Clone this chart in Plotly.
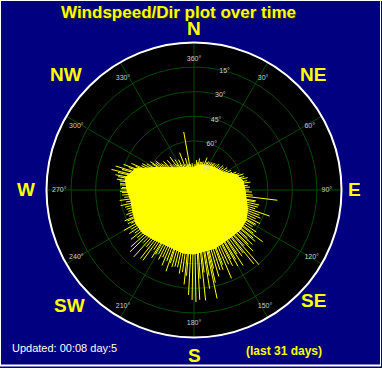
import plotly.graph_objects as go

W, H = 382, 368

# ---------------- data ----------------
# dense core of the wind plot: direction (deg) and speed (mph, 1 mph = 5 px)
core_dir = [0, 10, 20, 30, 40, 50, 60, 70, 80, 90, 100, 110, 120, 130, 140, 150, 160, 170,
            180, 190, 200, 210, 220, 230, 240, 250, 260, 270, 280, 290, 300, 310, 320, 330, 340, 350]
core_speed = [4.6, 5.0, 5.4, 5.6, 6.0, 6.4, 7.0, 9.0, 10.0, 10.2, 10.6, 11.4, 12.0, 12.2, 12.0, 12.0, 12.4, 12.4,
              12.8, 12.8, 12.4, 12.4, 12.8, 13.4, 13.4, 13.0, 12.8, 13.4, 14.0, 12.4, 9.0, 7.0, 5.8, 5.2, 4.8, 4.6]

# individual readings that stick out of the core
spike_dir = [350, 345, 339, 333, 328, 324, 318, 313, 307, 303, 297, 293, 290, 287, 284, 281, 278, 275,
             5, 10, 15, 22, 27, 33, 38, 44, 50, 56, 62, 67, 72, 77, 82, 87,
             92, 97, 101, 105, 109, 113, 117, 120, 124, 127, 130, 133, 136, 139, 141, 144, 147, 150,
             153, 157, 160, 164, 167, 168, 171, 174, 177, 179, 181, 183, 186,
             190, 194, 196, 199, 203, 207, 212, 216, 218, 222, 226, 228, 232, 236, 240, 243, 246,
             250, 254, 258, 262, 266, 269, 272]
spike_speed = [11.8, 6.6, 8.0, 6.8, 7.2, 8.2, 8.0, 8.4, 9.6, 10.4, 11.6, 13.6, 15.0, 16.4, 17.0, 16.0, 15.6, 14.8,
               6.0, 6.4, 5.8, 7.0, 6.4, 6.6, 6.8, 7.2, 7.6, 8.0, 8.4, 9.2, 10.4, 11.0, 11.4, 11.2,
               11.6, 16.8, 12.4, 13.2, 16.0, 14.4, 14.8, 14.0, 15.0, 17.2, 16.0, 16.0, 17.0, 19.8, 19.0, 16.4, 18.0, 17.6,
               17.0, 19.2, 17.0, 18.0, 19.0, 22.2, 20.0, 22.2, 22.0, 22.4, 22.0, 21.0, 19.0,
               17.0, 15.8, 16.0, 17.2, 16.4, 15.6, 16.0, 17.4, 17.4, 18.0, 17.8, 17.0, 16.0, 15.6, 16.2, 14.8, 15.2,
               14.4, 14.0, 15.0, 15.0, 14.4, 14.8, 14.4]

# shorter readings that make the ragged fringe of the core
fringe_dir = [100, 103, 107, 111, 115, 119, 122, 126, 129, 132, 135, 138, 142, 146, 149, 152, 155, 159,
              162, 166, 170, 173, 176, 185, 188, 192, 198, 201, 205, 209, 211, 214, 220, 224, 230,
              234, 238, 242, 245, 248, 252, 256, 260, 264, 268, 271, 274, 277, 280, 283, 286, 289,
              292, 295, 299, 302, 305, 309, 311, 316, 321, 326, 331, 336, 342, 347, 352, 356,
              2, 8, 13, 18, 25, 30, 36, 41, 47, 53, 59, 65, 70, 75, 80, 85, 90, 95]
fringe_speed = [12.6, 13.4, 12.8, 14.0, 13.6, 14.2, 13.8, 14.6, 15.2, 14.4, 15.4, 15.0, 16.0, 15.4, 16.2, 15.6, 16.4, 16.0,
                16.8, 16.2, 17.4, 16.6, 17.8, 17.2, 16.6, 15.8, 15.4, 15.2, 14.8, 14.6, 15.0, 14.4, 14.8, 14.6, 14.8,
                14.6, 14.8, 14.2, 14.6, 14.0, 13.8, 14.2, 13.8, 14.0, 14.4, 14.6, 14.8, 15.0, 15.4, 15.6, 15.0, 13.8,
                12.6, 11.6, 10.8, 9.8, 9.4, 8.4, 7.8, 7.0, 6.6, 6.2, 5.8, 5.6, 5.4, 5.4, 5.2, 5.4,
                5.2, 5.6, 5.8, 6.0, 6.2, 6.4, 6.6, 6.8, 7.0, 7.4, 7.8, 8.4, 9.6, 10.4, 10.8, 10.8, 11.0, 11.8]

# grid labels
angle_ticks = [0, 30, 60, 90, 120, 150, 180, 210, 240, 270, 300, 330]
angle_labels = ["360°", "30°", "60°", "90°", "120°", "150°", "180°", "210°", "240°", "270°", "300°", "330°"]
ring_ticks = [15, 30, 45, 60, 75]
ring_labels = ["15°", "30°", "45°", "60°", "75°"]

compass_text = ["N", "NE", "E", "SE", "S", "SW", "W", "NW"]
compass_px = [(194, 29), (313, 75), (354, 189), (313, 300), (194, 355), (69, 305), (26, 189), (66, 75)]

title_text = "Windspeed/Dir plot over time"
updated_text = "Updated: 00:08 day:5"
period_text = "(last 31 days)"

# ---------------- helpers ----------------
def px(x):
    return x / W

def py(y):
    return 1 - y / H

CX, CY = 194, 190
R_OUT = 147.5
R_LAB = 127

def dom(r):
    return dict(x=[px(CX - r), px(CX + r)], y=[py(CY + r), py(CY - r)])

def segments(dirs, speeds):
    rr, tt = [], []
    for d, s in zip(dirs, speeds):
        rr += [0, s, None]
        tt += [d, d, None]
    return rr, tt

fig = go.Figure()
# grid subplot (drawn first, under the data)
fig.add_trace(go.Scatterpolar(r=[0], theta=[0], mode="markers", marker=dict(opacity=0),
                              subplot="polar", hoverinfo="skip", showlegend=False))
fig.add_trace(go.Scatterpolar(r=core_speed + [core_speed[0]], theta=core_dir + [core_dir[0]],
                              mode="lines", fill="toself", fillcolor="#FFFF00",
                              line=dict(color="#FFFF00", width=1), subplot="polar2",
                              hoverinfo="skip", showlegend=False))
for dirs, speeds in ((fringe_dir, fringe_speed), (spike_dir, spike_speed)):
    rr, tt = segments(dirs, speeds)
    fig.add_trace(go.Scatterpolar(r=rr, theta=tt, mode="lines",
                                  line=dict(color="#FFFF00", width=1), subplot="polar2",
                                  hoverinfo="skip", showlegend=False, connectgaps=False))
# label subplots (on top of the data)
fig.add_trace(go.Scatterpolar(r=[0], theta=[0], mode="markers", marker=dict(opacity=0),
                              subplot="polar3", hoverinfo="skip", showlegend=False))
fig.add_trace(go.Scatterpolar(r=[90], theta=[0], mode="markers", marker=dict(opacity=0),
                              subplot="polar4", hoverinfo="skip", showlegend=False))

GRID = "#004a00"
FONT = "Liberation Sans, Arial, sans-serif"
LABEL_FONT = dict(family=FONT, size=7, color="#d0d0d0")

fig.update_layout(
    width=W, height=H,
    margin=dict(l=0, r=0, t=0, b=0),
    paper_bgcolor="#000080",
    plot_bgcolor="#000080",
    showlegend=False,
    polar=dict(
        domain=dom(R_OUT),
        bgcolor="#000000",
        angularaxis=dict(rotation=90, direction="clockwise", tickvals=angle_ticks,
                         showticklabels=False, ticks="", gridcolor=GRID, gridwidth=1,
                         showline=True, linecolor="#FFFFFF", linewidth=2),
        radialaxis=dict(range=[90, 0], tickvals=ring_ticks, showticklabels=False,
                        showline=False, ticks="", gridcolor=GRID, gridwidth=1),
    ),
    polar2=dict(
        domain=dom(R_OUT),
        bgcolor="rgba(0,0,0,0)",
        angularaxis=dict(rotation=90, direction="clockwise", visible=False),
        radialaxis=dict(range=[0, R_OUT / 5], visible=False),
    ),
    polar3=dict(
        domain=dom(R_LAB),
        bgcolor="rgba(0,0,0,0)",
        angularaxis=dict(rotation=90, direction="clockwise", tickvals=angle_ticks,
                         ticktext=angle_labels, ticks="", showgrid=False, showline=False,
                         tickfont=LABEL_FONT),
        radialaxis=dict(visible=False),
    ),
    polar4=dict(
        domain=dom(R_OUT),
        bgcolor="rgba(0,0,0,0)",
        angularaxis=dict(rotation=90, direction="clockwise", showticklabels=False, ticks="",
                         showgrid=False, showline=False),
        radialaxis=dict(range=[90, 0], tickvals=ring_ticks, ticktext=ring_labels,
                        showline=False, ticks="", showgrid=False,
                        angle=80, tickangle=80, tickfont=LABEL_FONT, showticklabels=True),
    ),
)

# window frame
fig.add_shape(type="line", xref="paper", yref="paper", x0=px(0.5), x1=px(0.5), y0=py(0), y1=py(366),
              line=dict(color="#FFFFFF", width=1))
fig.add_shape(type="line", xref="paper", yref="paper", x0=px(0), x1=px(382), y0=py(0.5), y1=py(0.5),
              line=dict(color="#FFFFFF", width=1))
fig.add_shape(type="line", xref="paper", yref="paper", x0=px(380.5), x1=px(380.5), y0=py(0), y1=py(366),
              line=dict(color="#FFFFFF", width=1))
fig.add_shape(type="line", xref="paper", yref="paper", x0=px(0), x1=px(381), y0=py(365.5), y1=py(365.5),
              line=dict(color="#FFFFFF", width=2))

# text
fig.add_annotation(text=title_text, x=px(178), y=py(12), xref="paper", yref="paper",
                   showarrow=False, xanchor="center", yanchor="middle", borderpad=0,
                   font=dict(family=FONT, size=17, color="#FFFF00",
                             weight="bold", shadow="1px 1px 0px #203000"))
for t, (x, y) in zip(compass_text, compass_px):
    fig.add_annotation(text=t, x=px(x), y=py(y), xref="paper", yref="paper",
                       showarrow=False, xanchor="center", yanchor="middle", borderpad=0,
                       font=dict(family=FONT, size=19, color="#FFFF00", weight="bold"))
fig.add_annotation(text=updated_text, x=px(10), y=py(348), xref="paper", yref="paper",
                   showarrow=False, xanchor="left", yanchor="middle",
                   font=dict(family=FONT, size=11, color="#FFFFFF"))
fig.add_annotation(text=period_text, x=px(284), y=py(351), xref="paper", yref="paper",
                   showarrow=False, xanchor="center", yanchor="middle",
                   font=dict(family=FONT, size=12, color="#FFFF00", weight="bold"))

fig.write_html("out.html")
